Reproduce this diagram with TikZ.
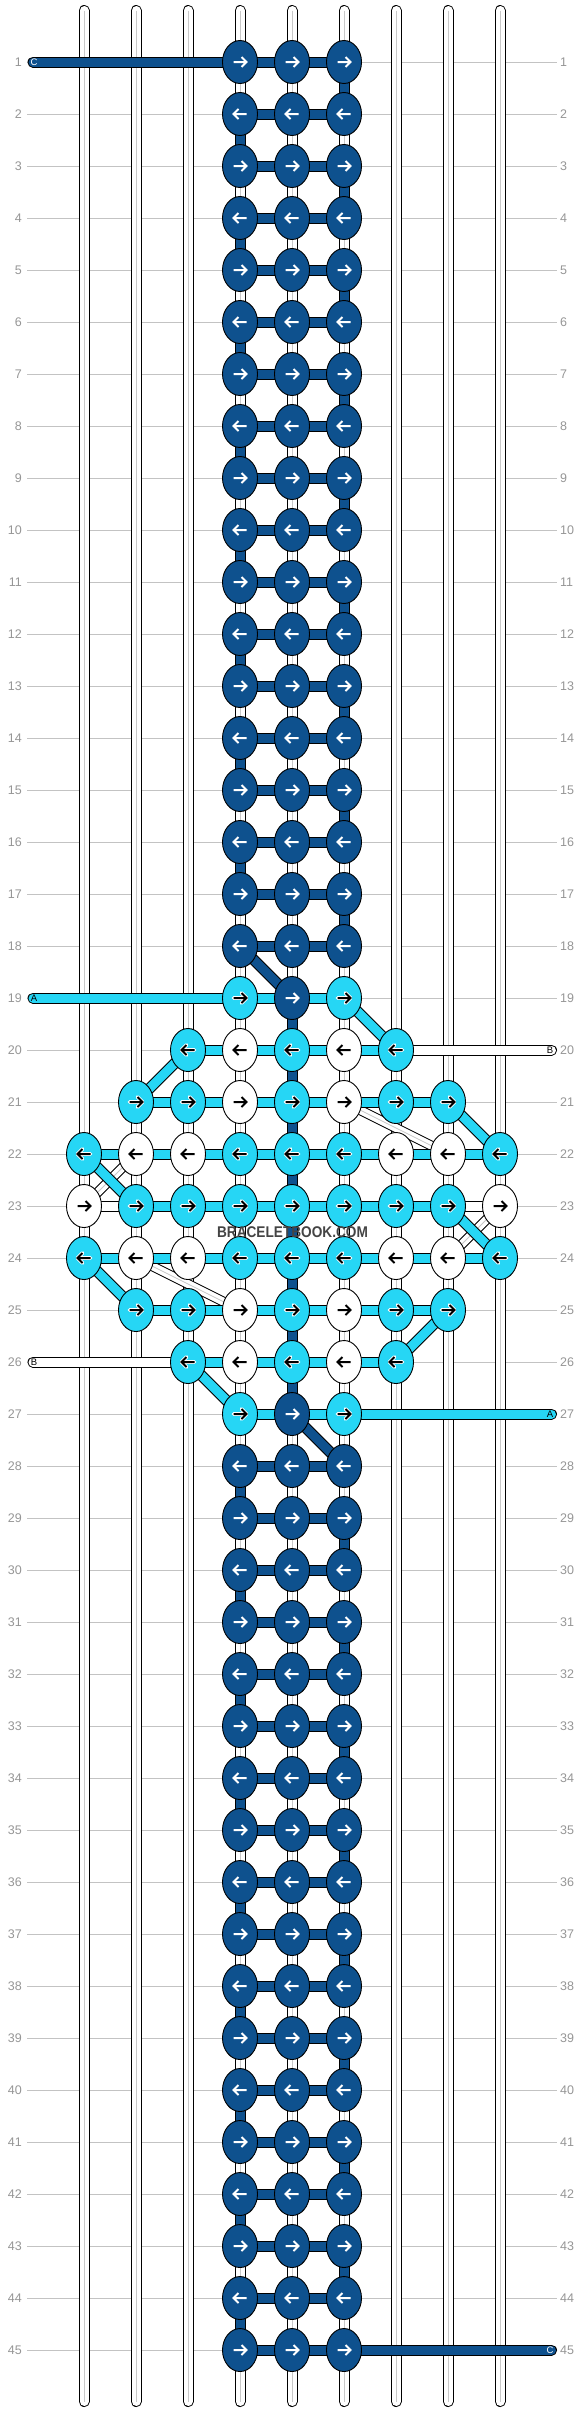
\documentclass[tikz,border=0pt]{standalone}
\usepackage{fontspec}
\setmainfont{Liberation Sans}
\usetikzlibrary{shapes.geometric}
\definecolor{db}{RGB}{14,81,142}
\definecolor{cy}{RGB}{38,214,245}
\definecolor{rowline}{RGB}{195,195,195}
\definecolor{rowlab}{RGB}{150,150,150}
\definecolor{strmid}{RGB}{200,200,200}
\definecolor{wm}{RGB}{68,68,68}
\newcommand\cbar[3]{\draw[black,line width=11pt] (#2)--(#3); \draw[#1,line width=9pt] (#2)--(#3);}
\newcommand\wdiag[2]{\draw[black,line width=10pt] (#1)--(#2); \draw[white,line width=8pt] (#1)--(#2); \draw[strmid,line width=0.8pt] (#1)--(#2);}
\newcommand\karrow[4]{%
  \begin{scope}[shift={(#1)},xscale=#4]
    \draw[#3,line width=3.6pt,line cap=round,line join=round] (-6.5,0)--(6,0) (1.5,-5)--(6.5,0)--(1.5,5);
    \draw[#2,line width=2pt] (-6.5,0)--(6,0) (1.5,-5)--(6.5,0)--(1.5,5);
  \end{scope}}
\newcommand\kn[6]{%
  \node[knot,fill=#3] (k#1-#2) at (p#1-#2) {};
  \karrow{k#1-#2.center}{#4}{#5}{#6}}
\newcommand\kd[3]{\kn{#1}{#2}{db}{white}{db}{#3}}
\newcommand\kc[3]{\kn{#1}{#2}{cy}{black}{white}{#3}}
\newcommand\kw[3]{\kn{#1}{#2}{white}{black}{white}{#3}}
\newcommand\krow[3]{\foreach \c/\t in {#3} {\csname k\t\endcsname{\c}{#1}{#2}}}
\begin{document}
\begin{tikzpicture}[x=1pt,y=-1pt,
  knot/.style={ellipse,draw=black,line width=0.9pt,minimum width=35pt,minimum height=43pt,inner sep=0pt},
  rlab/.style={text=rowlab,font=\fontsize{12.5}{14}\selectfont,inner sep=0pt},
  blab/.style={font=\fontsize{9.5}{10}\selectfont,inner sep=0pt}]
\useasboundingbox (0,0) rectangle (584,2412);
\fill[white] (0,0) rectangle (584,2412);
% grid coordinates
\foreach \c in {1,...,9} {
  \coordinate (t\c) at ({84+52*(\c-1)},10.5);
  \coordinate (b\c) at ({84+52*(\c-1)},2401.5);
  \foreach \r in {1,...,45} {\coordinate (p\c-\r) at ({84+52*(\c-1)},{62+52*(\r-1)});}
}
% row lines and labels
\foreach \r in {1,...,45} {
  \node[rlab,anchor=east] (ll\r) at (22,{62+52*(\r-1)}) {\r};
  \node[rlab,anchor=west] (rl\r) at (560,{62+52*(\r-1)}) {\r};
  \draw[rowline,line width=1pt,shorten <=5pt,shorten >=3pt] (ll\r.east) -- (rl\r.west);
}
% vertical strings
\foreach \c in {1,...,9} {
  \draw[black,line width=11pt,line cap=round] (t\c)--(b\c);
  \draw[white,line width=9pt,line cap=round] (t\c)--(b\c);
  \draw[strmid,line width=1pt] (t\c)--(b\c);
}
% thin white diagonals
\foreach \a/\b in {6-21/8-22, 2-24/4-25, 2-22/1-23, 9-23/8-24} {\wdiag{p\a}{p\b}}
% dark blue bars
\foreach \r in {1,...,18} {\cbar{db}{p4-\r}{p5-\r}\cbar{db}{p5-\r}{p6-\r}}
\foreach \r in {28,...,45} {\cbar{db}{p4-\r}{p5-\r}\cbar{db}{p5-\r}{p6-\r}}
\foreach \r in {1,...,17} {\pgfmathtruncatemacro\cc{ifthenelse(mod(\r,2)==1,6,4)}\pgfmathtruncatemacro\rn{\r+1}\cbar{db}{p\cc-\r}{p\cc-\rn}}
\foreach \r in {28,...,44} {\pgfmathtruncatemacro\cc{ifthenelse(mod(\r,2)==1,6,4)}\pgfmathtruncatemacro\rn{\r+1}\cbar{db}{p\cc-\r}{p\cc-\rn}}
\foreach \r in {19,...,26} {\pgfmathtruncatemacro\rn{\r+1}\cbar{db}{p5-\r}{p5-\rn}}
\cbar{db}{p4-18}{p5-19}
\cbar{db}{p5-27}{p6-28}
% cyan bars
\foreach \r/\a/\b in {19/4/5,20/3/6,21/2/7,22/1/8,23/2/7,24/1/8,25/2/7,26/3/6,27/4/5} {
  \foreach \c in {\a,...,\b} {\pgfmathtruncatemacro\cn{\c+1}\cbar{cy}{p\c-\r}{p\cn-\r}}}
\foreach \a/\b in {6-19/7-20, 3-20/2-21, 8-21/9-22, 1-22/2-23, 8-23/9-24, 1-24/2-25, 8-25/7-26, 3-26/4-27} {\cbar{cy}{p\a}{p\b}}
\cbar{white}{p1-23}{p2-23}
\cbar{white}{p8-23}{p9-23}
% long side strings
\coordinate (cL) at (33,62);
\coordinate (aL) at (33,998);
\coordinate (bR) at (551.5,1050);
\coordinate (bL) at (33,1362);
\coordinate (aR) at (551.5,1414);
\coordinate (cR) at (551.5,2350);
\foreach \a/\b/\f in {cL/p4-1/db, aL/p4-19/cy, p7-20/bR/white, bL/p3-26/white, p6-27/aR/cy, p6-45/cR/db} {
  \draw[black,line width=11pt,line cap=round] (\a)--(\b);
  \draw[\f,line width=9pt,line cap=round] (\a)--(\b);
}
\node[blab,text=white] (lc1) at (34,62.5) {C};
\node[blab,text=black] (la1) at (34,998.5) {A};
\node[blab,text=black] (lb1) at (550,1050.5) {B};
\node[blab,text=black] (lb2) at (34,1362.5) {B};
\node[blab,text=black] (la2) at (550,1414.5) {A};
\node[blab,text=white] (lc2) at (550,2350.5) {C};
% knots
\foreach \r in {1,...,18} {\pgfmathtruncatemacro\d{ifthenelse(mod(\r,2)==1,1,-1)}\foreach \c in {4,5,6} {\kd{\c}{\r}{\d}}}
\foreach \r in {28,...,45} {\pgfmathtruncatemacro\d{ifthenelse(mod(\r,2)==1,1,-1)}\foreach \c in {4,5,6} {\kd{\c}{\r}{\d}}}
\krow{19}{1}{4/c,5/d,6/c}
\krow{20}{-1}{3/c,4/w,5/c,6/w,7/c}
\krow{21}{1}{2/c,3/c,4/w,5/c,6/w,7/c,8/c}
\krow{22}{-1}{1/c,2/w,3/w,4/c,5/c,6/c,7/w,8/w,9/c}
\krow{23}{1}{1/w,2/c,3/c,4/c,5/c,6/c,7/c,8/c,9/w}
\krow{24}{-1}{1/c,2/w,3/w,4/c,5/c,6/c,7/w,8/w,9/c}
\krow{25}{1}{2/c,3/c,4/w,5/c,6/w,7/c,8/c}
\krow{26}{-1}{3/c,4/w,5/c,6/w,7/c}
\krow{27}{1}{4/c,5/d,6/c}
% watermark
\node[text=wm,font=\fontsize{15.5}{16}\selectfont\bfseries,xscale=0.88,inner sep=0pt] (wmark) at (292.5,1232) {BRACELETBOOK.COM};
\end{tikzpicture}
\end{document}
